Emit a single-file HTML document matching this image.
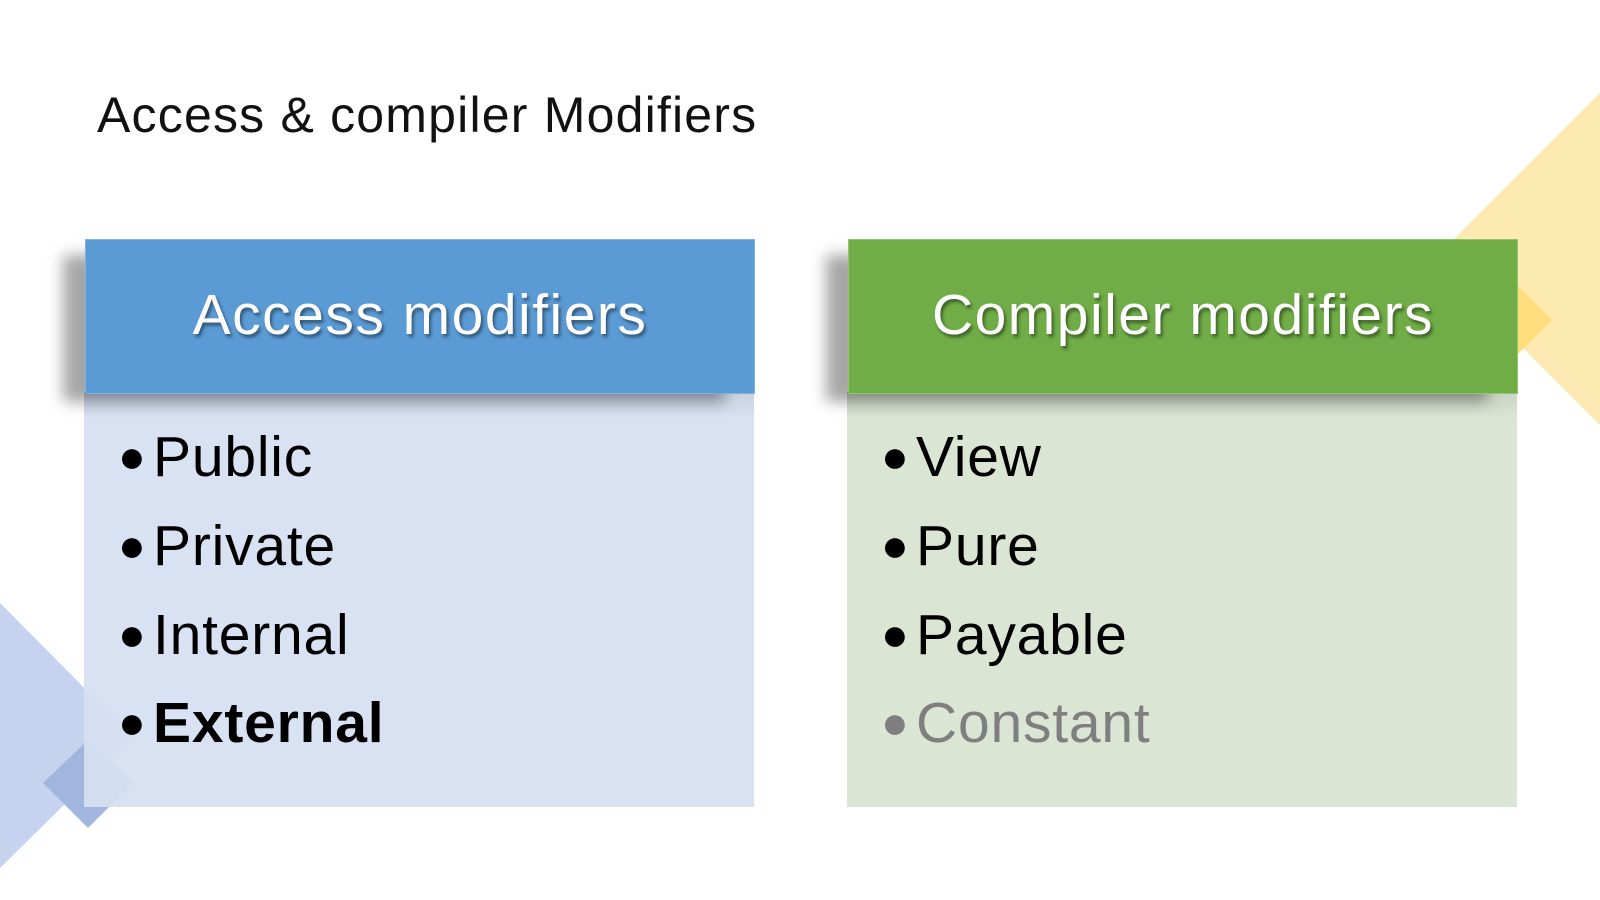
<!DOCTYPE html>
<html><head><style>
body{margin:0;width:1600px;height:900px;background:#fff;position:relative;overflow:hidden;font-family:"Liberation Sans",sans-serif}
.abs{position:absolute}
.title{left:97px;top:86px;font-size:50px;color:#111;letter-spacing:1.2px}
.hdr{position:absolute;top:239px;height:153px;width:668px;color:#fff;font-size:57px;letter-spacing:1.5px;text-align:center;line-height:150px;text-shadow:2px 3px 3px rgba(0,0,0,0.45);box-shadow:-26px 12px 14px -4px rgba(0,0,0,0.35)}
.body{position:absolute;top:392px;height:415px;width:670px}
.body::before{content:"";position:absolute;left:0;right:0;top:0;height:26px;background:linear-gradient(rgba(0,0,0,0.08),rgba(0,0,0,0))}
.li{position:absolute;left:34px;font-size:57px;line-height:60px;color:#000;letter-spacing:0.8px}
.li span{display:inline-block;width:35px;font-size:46px;vertical-align:4px}
</style></head><body>
<svg class="abs" style="left:0;top:0" width="1600" height="900">
<polygon points="1600,93 1434,259 1600,425" fill="#fde9b2"/>
<polygon points="1510,278 1552,320 1510,362 1468,320" fill="#fddd7c"/>
<polygon points="0,603 133,737 0,868" fill="#c5d3ee"/>
<polygon points="88,740 133,783 88,828 43,783" fill="#a2b5df"/>
</svg>
<div class="abs title">Access &amp; compiler Modifiers</div>
<div class="body" style="left:84px;background:rgba(214,224,241,0.93)">
<div class="li" style="top:34px"><span>●</span>Public</div>
<div class="li" style="top:123px"><span>●</span>Private</div>
<div class="li" style="top:212px"><span>●</span>Internal</div>
<div class="li" style="top:300px;font-weight:bold"><span style="font-weight:normal">●</span>External</div>
</div>
<div class="body" style="left:847px;background:#dbe5d4">
<div class="li" style="top:34px"><span>●</span>View</div>
<div class="li" style="top:123px"><span>●</span>Pure</div>
<div class="li" style="top:212px"><span>●</span>Payable</div>
<div class="li" style="top:300px;color:#7f7f7f"><span>●</span>Constant</div>
</div>
<div class="hdr" style="left:85px;background:#5b9bd5;border:1px solid #7fb2e2">Access modifiers</div>
<div class="hdr" style="left:848px;background:#70ad47;border:1px solid #8fc56c">Compiler modifiers</div>
</body></html>
